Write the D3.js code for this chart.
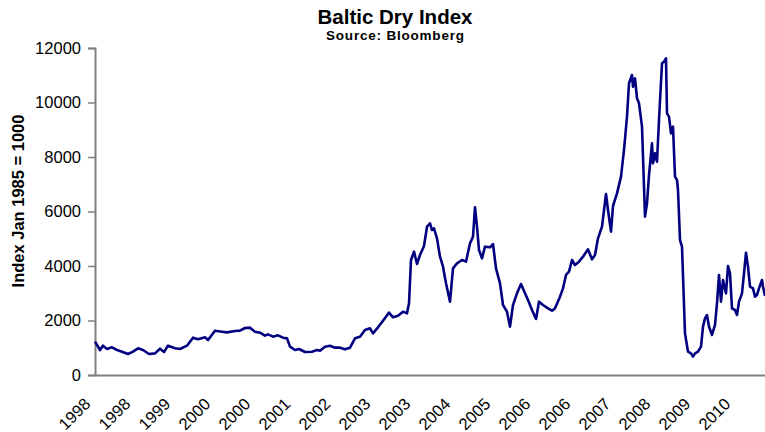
<!DOCTYPE html>
<html>
<head>
<meta charset="utf-8">
<script src="https://cdn.jsdelivr.net/npm/d3@7"></script>
<style>
  html, body { margin: 0; padding: 0; background: #fff; }
  svg { display: block; }
</style>
</head>
<body>
<script>
// Category labels (Excel-style, one label every 40 weekly observations)
const tickLabels = ["1998","1998","1999","2000","2000","2001","2002","2003","2003","2004","2005","2006","2006","2007","2008","2009","2010"];
const labelEvery = 40;
const totalWeeks = 670;

// Observation index (weeks since start) and Baltic Dry Index values
const weeks = [0,5,8,12,17,22,27,33,38,43,48,54,60,65,69,73,80,85,92,98,103,110,113,120,127,132,140,145,150,155,160,165,170,173,178,183,188,192,195,200,204,210,217,222,225,230,235,240,245,250,255,260,265,270,275,278,283,288,294,298,303,308,312,314,316,319,322,325,329,332,335,337,339,342,345,348,351,355,358,362,367,371,375,378,380,382,384,387,390,395,398,401,405,408,412,415,418,422,426,430,433,437,441,444,448,453,457,460,465,468,471,474,477,480,484,488,493,497,500,503,507,511,513,516,518,522,526,529,532,534,537,538,540,542,544,547,548,550,552,554,557,558,560,562,564,567,569,571,572,574,576,578,580,582,583,585,587,590,593,596,598,600,603,606,608,610,612,614,617,620,622,624,626,628,631,633,635,637,640,642,644,647,649,651,653,655,658,660,662,664,667,668,670];
const values = [1222,917,1076,954,1015,917,856,771,856,979,917,771,795,966,844,1076,979,954,1076,1370,1309,1382,1284,1627,1590,1565,1614,1627,1725,1737,1590,1553,1443,1492,1407,1456,1370,1345,1040,917,954,844,856,917,893,1040,1076,1003,1003,942,1003,1345,1407,1651,1712,1529,1749,1994,2288,2116,2177,2324,2263,2630,4220,4526,4073,4404,4734,5443,5566,5321,5382,5015,4342,3974,3364,2691,3914,4098,4220,4159,4832,5076,6153,5443,4587,4281,4709,4685,4807,3914,3364,2569,2324,1774,2569,2997,3339,2997,2752,2385,2055,2691,2569,2446,2361,2446,2875,3180,3670,3792,4220,4037,4159,4342,4612,4245,4404,5015,5443,6642,6055,5260,6202,6667,7278,8257,9480,10704,11009,10581,10887,10153,9969,9113,8012,5810,6300,7339,8502,7768,8135,7829,9358,11437,11498,11621,9602,9480,8869,9113,7278,7156,6789,4954,4709,1529,856,795,673,795,856,1040,1774,2079,2202,1774,1468,1835,2630,3670,2691,3486,2997,4000,3731,2446,2385,2202,2691,2997,3731,4488,3974,3241,3180,2875,2936,3180,3486,3241,2900];
const yTicks = [0,2000,4000,6000,8000,10000,12000];

const W = 765, H = 432;
const margin = {left: 95, right: 0, top: 48, bottom: 57};
const font = "'Liberation Sans', Arial, sans-serif";

const svg = d3.select("body").append("svg").attr("width", W).attr("height", H);

const x = d3.scaleLinear().domain([0, totalWeeks]).range([margin.left, W - margin.right]);
const y = d3.scaleLinear().domain([0, 12000]).range([H - margin.bottom, margin.top]);

// Title
svg.append("text").attr("x", 395).attr("y", 23.5).attr("text-anchor", "middle")
  .attr("font-family", font).attr("font-weight", "bold").attr("font-size", 20.5)
  .text("Baltic Dry Index");
svg.append("text").attr("x", 395).attr("y", 40).attr("text-anchor", "middle")
  .attr("font-family", font).attr("font-weight", "bold").attr("font-size", 13.5)
  .attr("textLength", 138).attr("lengthAdjust", "spacing")
  .text("Source: Bloomberg");

// Y axis
const yAxis = svg.append("g").attr("transform", `translate(${margin.left},0)`)
  .call(d3.axisLeft(y).tickValues(yTicks).tickSize(7).tickPadding(7).tickFormat(d3.format("d")));
yAxis.select(".domain").attr("stroke", "#808080").attr("stroke-width", 2);
yAxis.selectAll(".tick line").attr("stroke", "#808080").attr("stroke-width", 1.5);
yAxis.selectAll(".tick text").attr("font-family", font).attr("font-size", 16.5).attr("fill", "#000");

// Y axis title
svg.append("text").attr("transform", `translate(24,201) rotate(-90)`)
  .attr("text-anchor", "middle").attr("font-family", font).attr("font-weight", "bold").attr("font-size", 16.5)
  .text("Index Jan 1985 = 1000");

// X axis
const xTickVals = tickLabels.map((d, i) => i * labelEvery);
const xAxis = svg.append("g").attr("transform", `translate(0,${H - margin.bottom})`)
  .call(d3.axisBottom(x).tickValues(xTickVals).tickSize(0).tickFormat((d, i) => tickLabels[i]));
xAxis.select(".domain").attr("stroke", "#808080").attr("stroke-width", 2);
xAxis.selectAll(".tick text")
  .attr("font-family", font).attr("font-size", 16.5).attr("fill", "#000")
  .attr("text-anchor", "end")
  .attr("dy", null)
  .attr("transform", "translate(-4,30) rotate(-45)")
  .attr("y", 0).attr("x", 0);

// Line
const data = weeks.map((w, i) => ({w, v: values[i]}));
const line = d3.line().x(d => x(d.w)).y(d => y(d.v));
svg.append("path").datum(data).attr("d", line)
  .attr("fill", "none").attr("stroke", "#000080").attr("stroke-width", 2.6)
  .attr("stroke-linejoin", "round");
</script>
</body>
</html>
